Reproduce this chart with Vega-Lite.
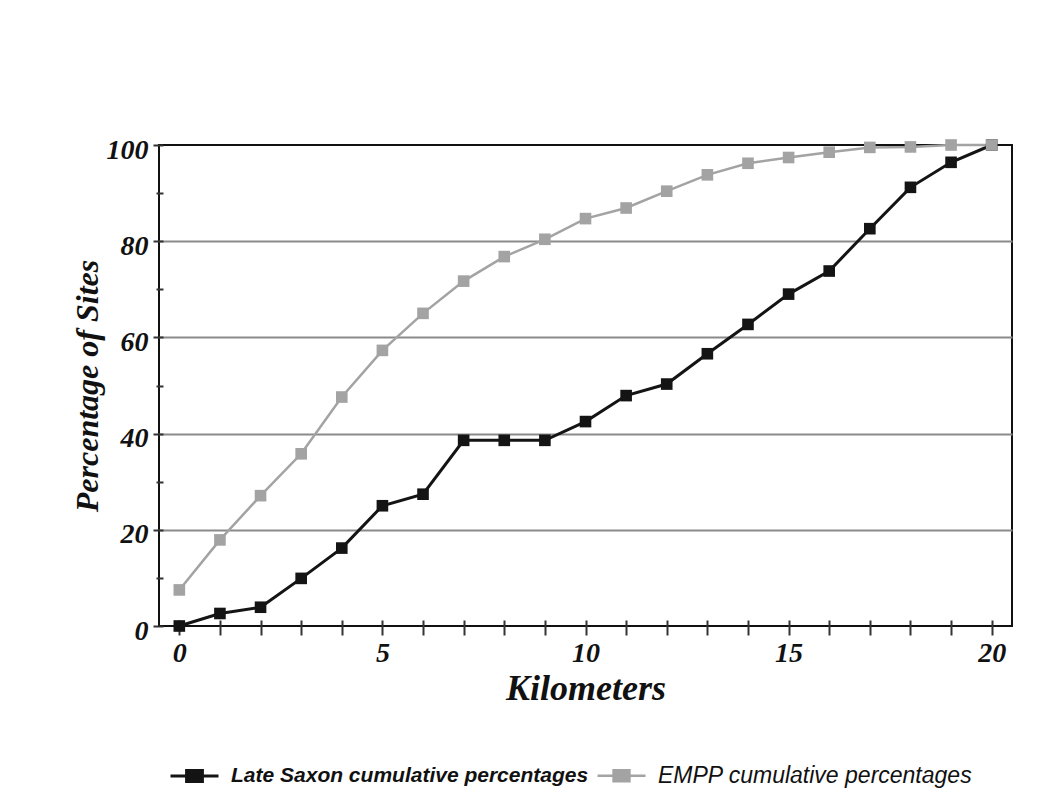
{
  "$schema": "https://vega.github.io/schema/vega-lite/v6.json",
  "autosize": {"type": "none"},
  "padding": {"left": 159, "top": 145, "right": 52, "bottom": 170},
  "width": 853,
  "height": 481,
  "background": "white",
  "config": {
    "view": {"stroke": "#111", "strokeWidth": 2},
    "font": "Liberation Serif"
  },
  "data": {
    "values": [
      {"km": 0, "pct": 0, "series": "Late Saxon cumulative percentages"},
      {"km": 1, "pct": 2.6, "series": "Late Saxon cumulative percentages"},
      {"km": 2, "pct": 3.9, "series": "Late Saxon cumulative percentages"},
      {"km": 3, "pct": 9.9, "series": "Late Saxon cumulative percentages"},
      {"km": 4, "pct": 16.2, "series": "Late Saxon cumulative percentages"},
      {"km": 5, "pct": 25, "series": "Late Saxon cumulative percentages"},
      {"km": 6, "pct": 27.4, "series": "Late Saxon cumulative percentages"},
      {"km": 7, "pct": 38.6, "series": "Late Saxon cumulative percentages"},
      {"km": 8, "pct": 38.6, "series": "Late Saxon cumulative percentages"},
      {"km": 9, "pct": 38.6, "series": "Late Saxon cumulative percentages"},
      {"km": 10, "pct": 42.5, "series": "Late Saxon cumulative percentages"},
      {"km": 11, "pct": 47.9, "series": "Late Saxon cumulative percentages"},
      {"km": 12, "pct": 50.3, "series": "Late Saxon cumulative percentages"},
      {"km": 13, "pct": 56.6, "series": "Late Saxon cumulative percentages"},
      {"km": 14, "pct": 62.7, "series": "Late Saxon cumulative percentages"},
      {"km": 15, "pct": 69, "series": "Late Saxon cumulative percentages"},
      {"km": 16, "pct": 73.8, "series": "Late Saxon cumulative percentages"},
      {"km": 17, "pct": 82.6, "series": "Late Saxon cumulative percentages"},
      {"km": 18, "pct": 91.2, "series": "Late Saxon cumulative percentages"},
      {"km": 19, "pct": 96.4, "series": "Late Saxon cumulative percentages"},
      {"km": 20, "pct": 100, "series": "Late Saxon cumulative percentages"},
      {"km": 0, "pct": 7.5, "series": "EMPP cumulative percentages"},
      {"km": 1, "pct": 17.9, "series": "EMPP cumulative percentages"},
      {"km": 2, "pct": 27.1, "series": "EMPP cumulative percentages"},
      {"km": 3, "pct": 35.8, "series": "EMPP cumulative percentages"},
      {"km": 4, "pct": 47.6, "series": "EMPP cumulative percentages"},
      {"km": 5, "pct": 57.3, "series": "EMPP cumulative percentages"},
      {"km": 6, "pct": 65, "series": "EMPP cumulative percentages"},
      {"km": 7, "pct": 71.7, "series": "EMPP cumulative percentages"},
      {"km": 8, "pct": 76.8, "series": "EMPP cumulative percentages"},
      {"km": 9, "pct": 80.4, "series": "EMPP cumulative percentages"},
      {"km": 10, "pct": 84.7, "series": "EMPP cumulative percentages"},
      {"km": 11, "pct": 86.9, "series": "EMPP cumulative percentages"},
      {"km": 12, "pct": 90.4, "series": "EMPP cumulative percentages"},
      {"km": 13, "pct": 93.8, "series": "EMPP cumulative percentages"},
      {"km": 14, "pct": 96.2, "series": "EMPP cumulative percentages"},
      {"km": 15, "pct": 97.4, "series": "EMPP cumulative percentages"},
      {"km": 16, "pct": 98.5, "series": "EMPP cumulative percentages"},
      {"km": 17, "pct": 99.5, "series": "EMPP cumulative percentages"},
      {"km": 18, "pct": 99.6, "series": "EMPP cumulative percentages"},
      {"km": 19, "pct": 100, "series": "EMPP cumulative percentages"},
      {"km": 20, "pct": 100, "series": "EMPP cumulative percentages"}
    ]
  },
  "encoding": {
    "x": {
      "field": "km",
      "type": "quantitative",
      "scale": {"domain": [-0.5, 20.5], "nice": false, "zero": false},
      "axis": {
        "orient": "bottom",
        "values": [0,1,2,3,4,5,6,7,8,9,10,11,12,13,14,15,16,17,18,19,20],
        "labelExpr": "datum.value % 5 === 0 ? datum.label : ''",
        "grid": false,
        "domain": false,
        "offset": -6,
        "tickSize": 15,
        "tickWidth": 2,
        "tickColor": "#333",
        "labelFont": "Liberation Serif",
        "labelFontSize": 28,
        "labelFontStyle": "italic",
        "labelFontWeight": "bold",
        "labelColor": "#111",
        "labelPadding": 4,
        "title": "Kilometers",
        "titleFont": "Liberation Serif",
        "titleFontSize": 36,
        "titleFontStyle": "italic",
        "titleFontWeight": "bold",
        "titleColor": "#111",
        "titlePadding": 4
      }
    },
    "y": {
      "field": "pct",
      "type": "quantitative",
      "scale": {"domain": [0, 100], "nice": false},
      "axis": {
        "orient": "left",
        "values": [0,10,20,30,40,50,60,70,80,90,100],
        "labelExpr": "datum.value % 20 === 0 ? datum.label : ''",
        "grid": true,
        "gridColor": "#8a8a8a",
        "gridWidth": 2,
        "gridOpacity": {"condition": {"test": "datum.value % 20 === 0 && datum.value > 0 && datum.value < 100", "value": 1}, "value": 0},
        "domain": false,
        "offset": -4,
        "tickSize": {"condition": {"test": "datum.value % 20 === 0", "value": 10}, "value": 7},
        "tickWidth": 2,
        "tickColor": "#333",
        "labelFont": "Liberation Serif",
        "labelFontSize": 28,
        "labelFontStyle": "italic",
        "labelFontWeight": "bold",
        "labelColor": "#111",
        "labelPadding": 5,
        "labelOffset": 5,
        "title": "Percentage of Sites",
        "titleFont": "Liberation Serif",
        "titleFontSize": 32,
        "titleFontStyle": "italic",
        "titleFontWeight": "bold",
        "titleColor": "#111",
        "titlePadding": 2
      }
    },
    "color": {
      "field": "series",
      "type": "nominal",
      "scale": {
        "domain": ["Late Saxon cumulative percentages", "EMPP cumulative percentages"],
        "range": ["#141414", "#a3a3a3"]
      },
      "legend": {
        "title": null,
        "orient": "none",
        "direction": "horizontal",
        "legendX": 10,
        "legendY": 605,
        "symbolType": "M -1 0 L 1 0 M -0.33 -0.23 L 0.33 -0.23 L 0.33 0.23 L -0.33 0.23 Z",
        "symbolSize": 2304,
        "symbolStrokeWidth": 3,
        "labelFont": "Liberation Sans",
        "labelFontSize": 21,
        "labelFontStyle": "italic",
        "labelFontWeight": "bold",
        "labelColor": "#111",
        "labelOffset": 11,
        "columnPadding": 3,
        "labelLimit": 500,
        "encode": {
          "labels": {
            "update": {
              "fontWeight": {"signal": "datum.label == 'EMPP cumulative percentages' ? 'normal' : 'bold'"},
              "fontSize": {"signal": "datum.label == 'EMPP cumulative percentages' ? 23 : 21"}
            }
          }
        }
      }
    }
  },
  "layer": [
    {
      "mark": {"type": "line"},
      "encoding": {
        "strokeWidth": {
          "field": "series",
          "type": "nominal",
          "scale": {"domain": ["Late Saxon cumulative percentages", "EMPP cumulative percentages"], "range": [3, 2.5]},
          "legend": null
        }
      }
    },
    {
      "mark": {"type": "point", "shape": "square", "filled": true, "opacity": 1, "size": 135}
    }
  ]
}
